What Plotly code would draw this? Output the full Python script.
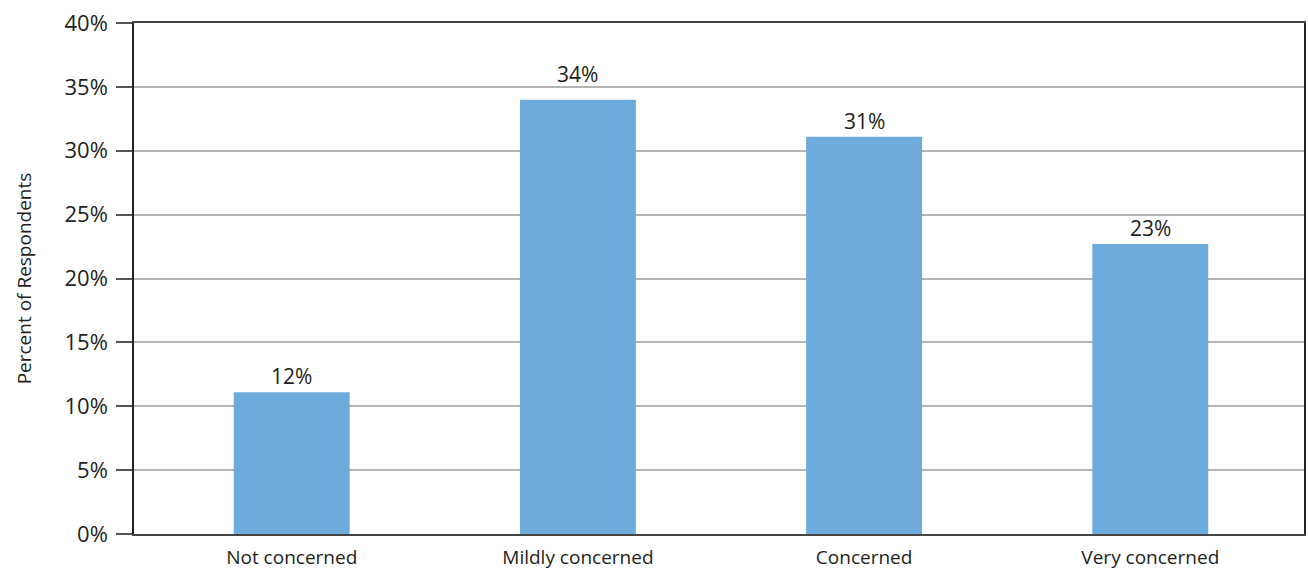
import plotly.graph_objects as go

categories = ["Not concerned", "Mildly concerned", "Concerned", "Very concerned"]
values = [11.1, 34.0, 31.1, 22.7]
labels = ["12%", "34%", "31%", "23%"]
y_ticks = [0, 5, 10, 15, 20, 25, 30, 35, 40]
y_tick_text = [f"{v}%" for v in y_ticks]

FONT = "Open Sans"
TXT = "#231f20"

xs = list(range(len(categories)))
# pixel offsets of the value labels above the bar tops (layout only)
label_shift = [0, 10, 0, 0]

fig = go.Figure()
fig.add_trace(go.Bar(
    x=xs,
    y=values,
    marker=dict(color="#6CABDB", line=dict(width=0)),
    width=0.405,
    hoverinfo="skip",
))

for xi, v, lab, sh in zip(xs, values, labels, label_shift):
    fig.add_annotation(
        x=xi, y=v, text=lab, showarrow=False,
        xanchor="center", yanchor="bottom", yshift=sh,
        font=dict(family=FONT, size=21, color=TXT),
    )

fig.update_layout(
    width=1308, height=574,
    margin=dict(l=134, r=2, t=23, b=40),
    paper_bgcolor="white",
    plot_bgcolor="white",
    showlegend=False,
    font=dict(family=FONT, color=TXT),
)
fig.update_xaxes(
    range=[-0.551, 3.537],
    tickmode="array",
    tickvals=xs,
    ticktext=categories,
    tickfont=dict(family=FONT, size=19, color=TXT),
    showgrid=False,
    ticks="",
    showline=True, linecolor="#444444", linewidth=2, mirror=True,
    zeroline=False,
    ticklabelstandoff=5,
)
fig.update_yaxes(
    range=[0, 40],
    tickmode="array",
    tickvals=y_ticks,
    ticktext=y_tick_text,
    tickfont=dict(family=FONT, size=22, color=TXT),
    ticks="outside", ticklen=16, tickcolor="#555555", tickwidth=1.5,
    showgrid=True, gridcolor="#b4b4b4", gridwidth=1.5,
    showline=True, linecolor="#222222", linewidth=1.5, mirror=True,
    zeroline=False,
    ticklabelstandoff=4,
    title=dict(text="Percent of Respondents", font=dict(family=FONT, size=19, color=TXT), standoff=28),
)

fig.write_html("out.html")
